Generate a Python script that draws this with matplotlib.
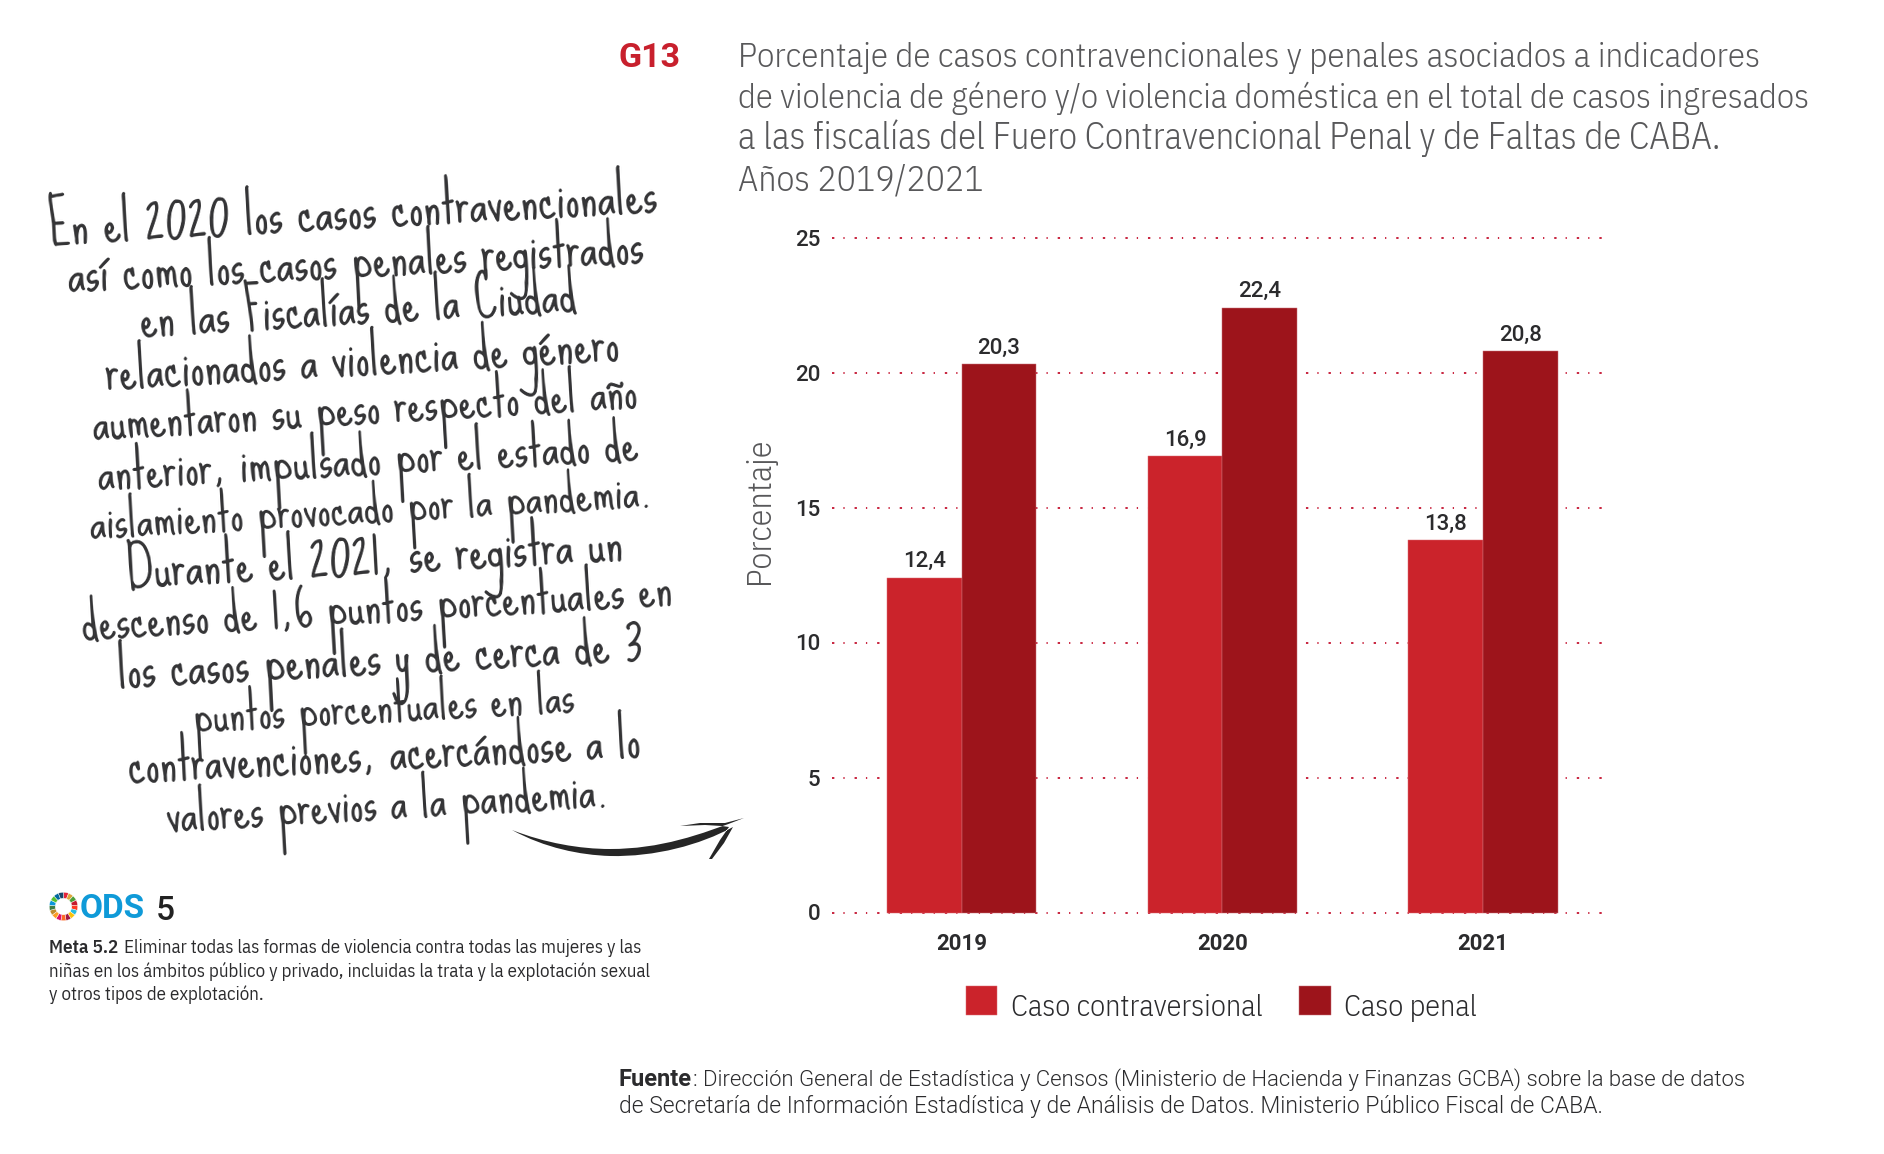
import matplotlib
matplotlib.use('Agg')  # no display here
import matplotlib.pyplot as plt
from matplotlib.path import Path
from matplotlib.patches import PathPatch
from matplotlib.transforms import Affine2D
import numpy as np

W, H = 1884, 1154

COLOR_CONTRA = '#cb232b'
COLOR_PENAL = '#9d141b'
COLOR_GRID = '#c4122f'
COLOR_TITLE = '#58585a'
COLOR_TEXT = '#2b2b2d'
COLOR_HAND = '#333335'

SANS = 'IBM Plex Sans Condensed'
NUM = 'Roboto'
HAND = 'Sue Ellen Francisco'

years = ['2019', '2020', '2021']
caso_contra = [12.4, 16.9, 13.8]
caso_penal = [20.3, 22.4, 20.8]
y_ticks = [0, 5, 10, 15, 20, 25]

title_lines = [
    'Porcentaje de casos contravencionales y penales asociados a indicadores',
    'de violencia de género y/o violencia doméstica en el total de casos ingresados',
    'a las fiscalías del Fuero Contravencional Penal y de Faltas de CABA.',
    'Años 2019/2021',
]
title_y = [66.7, 108, 149.3, 190.7]
title_size = [25.1, 24.85, 26.4, 25.8]

hand_lines = [
    'En el 2020 los casos contravencionales',
    'así como los casos penales registrados',
    'en las Fiscalías de la Ciudad',
    'relacionados a violencia de género',
    'aumentaron su peso respecto del año',
    'anterior, impulsado por el estado de',
    'aislamiento provocado por la pandemia.',
    'Durante el 2021, se registra un',
    'descenso de 1,6 puntos porcentuales en',
    'los casos penales y de cerca de 3',
    'puntos porcentuales en las',
    'contravenciones, acercándose a lo',
    'valores previos a la pandemia.',
]
# centre of each handwritten baseline in pixels, its tilt and size (the hand varies line by line)
hand_x = [354, 356.5, 359, 363, 366, 368.5, 371.5, 375.5, 377.5, 381, 384.5, 385.5, 388.5]
hand_y = [228.5, 277.5, 325, 375, 423.5, 475, 522.5, 574, 622.5, 674, 722, 770, 819.5]
hand_rot = [3.1, 2.9, 3.4, 3.3, 3.4, 3.2, 3.3, 3.2, 3.4, 3.0, 3.0, 2.9, 3.3]
hand_size = [41.2, 40.5, 40.2, 40.5, 39.1, 39.6, 38.1, 41, 39.5, 41, 37.6, 40.2, 38.7]

meta_lines = [
    'Eliminar todas las formas de violencia contra todas las mujeres y las',
    'niñas en los ámbitos público y privado, incluidas la trata y la explotación sexual',
    'y otros tipos de explotación.',
]
fuente_lines = [
    ': Dirección General de Estadística y Censos (Ministerio de Hacienda y Finanzas GCBA) sobre la base de datos',
    'de Secretaría de Información Estadística y de Análisis de Datos. Ministerio Público Fiscal de CABA.',
]
ods_colors = ['#e5243b', '#dda63a', '#4c9f38', '#c5192d', '#ff3a21', '#26bde2', '#fcc30b', '#a21942', '#fd6925',
              '#dd1367', '#fd9d24', '#bf8b2e', '#3f7e44', '#0a97d9', '#56c02b', '#00689d', '#19486a']


def px_text(x, y, s, **kw):
    return fig.text(x / W, 1 - y / H, s, va=kw.pop('va', 'baseline'), **kw)


def px_axes(left, top, right, bottom):
    return fig.add_axes([left / W, 1 - bottom / H, (right - left) / W, (bottom - top) / H])


fig = plt.figure(figsize=(W / 100, H / 100), dpi=100, facecolor='white')

# main chart
ax = px_axes(832, 232.1, 1604, 917.9)
x = np.arange(len(years))
bar_w = 0.2862
edge = dict(linewidth=0.35)
ax.bar(x - bar_w / 2, caso_contra, bar_w, color=COLOR_CONTRA, edgecolor='#dc6a72', label='Caso contraversional', zorder=2, **edge)
ax.bar(x + bar_w / 2, caso_penal, bar_w, color=COLOR_PENAL, edgecolor='#c9737a', label='Caso penal', zorder=2.1, **edge)

for vals, off in [(caso_contra, -bar_w / 2), (caso_penal, bar_w / 2)]:
    for i, v in enumerate(vals):
        ax.annotate(f'{v:.1f}'.replace('.', ','), (x[i] + off, v), xytext=(0, 7.5), textcoords='offset points',
                    ha='center', va='baseline', family=NUM, fontsize=16, weight=500, color=COLOR_TEXT)

ax.set_xlim(-0.4976, 2.464)
ax.set_ylim(-0.2, 25.2)
ax.set_yticks(y_ticks)
ax.set_xticks(x, years)
ax.grid(True, axis='y', color=COLOR_GRID, linewidth=1.3, linestyle=(0, (1.3, 5.0, 0.7, 5.5)), zorder=1)
ax.set_axisbelow(True)
ax.tick_params(axis='y', length=0, pad=8.6)
ax.tick_params(axis='x', length=0, pad=11)
for lab in ax.get_yticklabels():
    lab.set(family=NUM, fontsize=16, weight=500, color=COLOR_TEXT)
for lab in ax.get_xticklabels():
    lab.set(family=NUM, fontsize=16, weight=700, color=COLOR_TEXT)
for side in ax.spines:
    ax.spines[side].set_visible(False)

ax.set_ylabel('Porcentaje', family=SANS, weight=300, fontsize=24.5, color=COLOR_TITLE)
ax.yaxis.set_label_coords(-0.0725, 0.594)

leg = ax.legend(loc='upper left', bbox_to_anchor=(966 / W, 1 - 986 / H), bbox_transform=fig.transFigure, ncol=2,
                frameon=False, borderaxespad=0, borderpad=0, handlelength=1.03, handleheight=1.1, handletextpad=0.45,
                columnspacing=1.22, prop=dict(family=SANS, weight=300, size=21.8), labelcolor=COLOR_TEXT)
for t in leg.get_texts():
    t.set_position((0, -5))

# heading
px_text(619, 66.7, 'G13', family=NUM, weight=700, fontsize=24.5, color='#c8202d')
for line, y, size in zip(title_lines, title_y, title_size):
    px_text(738, y, line, family=SANS, weight=300, fontsize=size, color=COLOR_TITLE)

# handwritten note
for line, hx, hy, rot, size in zip(hand_lines, hand_x, hand_y, hand_rot, hand_size):
    px_text(hx, hy, line, family=HAND, fontsize=size, color=COLOR_HAND, ha='center', rotation=rot, rotation_mode='anchor')

# brush arrow
to_fig = Affine2D().scale(1 / W, -1 / H).translate(0, 1) + fig.transFigure
C4 = Path.CURVE4
L = Path.LINETO
verts = [(512, 830), (545, 843), (580, 849), (610, 849), (660, 849), (700, 835), (744, 818),
         (725, 823), (700, 823), (680, 826), (705, 825), (722, 826), (729, 827),
         (720, 840), (709, 859), (712, 859), (724, 843), (733, 827),
         (700, 845), (655, 857), (610, 856), (580, 855), (545, 848), (512, 830)]
codes = [Path.MOVETO, C4, C4, C4, C4, C4, C4,
         L, L, L, L, L, L,
         L, L, L, L, L,
         C4, C4, C4, C4, C4, C4]
fig.add_artist(PathPatch(Path(verts, codes), transform=to_fig, facecolor='#262626', edgecolor='none'))

# ODS block
ring = px_axes(49, 892, 78, 921)
ring.pie([1] * len(ods_colors), colors=ods_colors, startangle=90, counterclock=False, radius=1.0,
         wedgeprops=dict(width=0.42, linewidth=0.3, edgecolor='white'))
ring.set_xlim(-1.02, 1.02)
ring.set_ylim(-1.02, 1.02)
px_text(80, 918, 'ODS', family=NUM, weight=700, fontsize=24, color='#0f9ad8')
px_text(156, 920, '5', family=NUM, weight=500, fontsize=24, color='#222222')

px_text(49.3, 952.7, 'Meta 5.2', family=SANS, weight=600, fontsize=13.8, color=COLOR_TEXT)
px_text(124, 952.7, meta_lines[0], family=SANS, fontsize=13.6, color=COLOR_TEXT)
px_text(49.3, 976.7, meta_lines[1], family=SANS, fontsize=13.6, color=COLOR_TEXT)
px_text(49.3, 1000, meta_lines[2], family=SANS, fontsize=13.6, color=COLOR_TEXT)

# source
px_text(619, 1086, 'Fuente', family=NUM, weight=700, fontsize=17, color=COLOR_TEXT)
px_text(693, 1086, fuente_lines[0], family=NUM, weight=300, fontsize=15.95, color=COLOR_TEXT)
px_text(619, 1113, fuente_lines[1], family=NUM, weight=300, fontsize=16.5, color=COLOR_TEXT)

fig.savefig('out.png', dpi=100)
